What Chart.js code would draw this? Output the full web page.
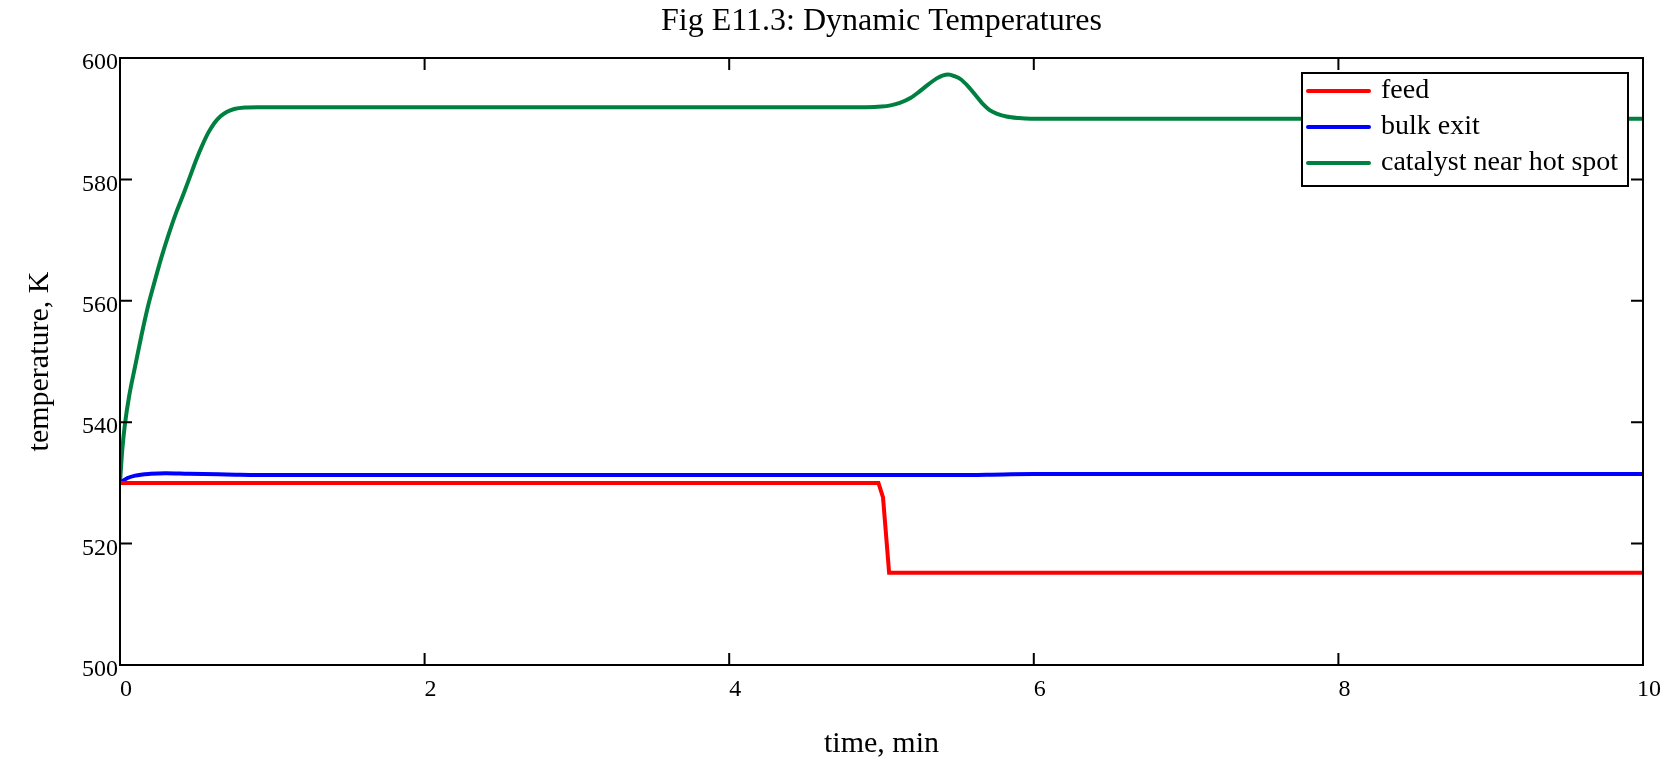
<!DOCTYPE html>
<html>
<head>
<meta charset="utf-8">
<script src="https://cdn.jsdelivr.net/npm/chart.js@4.4.1/dist/chart.umd.min.js"></script>
<style>
  html, body { margin: 0; padding: 0; background: #fff; }
  #wrap { width: 1679px; height: 760px; }
</style>
</head>
<body>
<div id="wrap"><canvas id="chart" width="1679" height="760"></canvas></div>
<script>
// values (time in min, temperature in K)
const feedTime = [0, 4.98, 5.01, 5.05, 10];
const feedTemp = [530, 530, 527.6, 515.2, 515.2];

const bulkTime = [0, 0.05, 0.1, 0.2, 0.3, 0.45, 0.7, 1, 2, 3, 4, 5, 5.5, 5.8, 6, 7, 8, 9, 10];
const bulkTemp = [530, 530.8, 531.2, 531.5, 531.6, 531.5, 531.4, 531.3, 531.3, 531.3, 531.3, 531.3, 531.3, 531.4, 531.45, 531.45, 531.45, 531.45, 531.45];

const catTime = [0, 0.015, 0.033, 0.06, 0.1, 0.14, 0.18, 0.22, 0.27, 0.32, 0.37, 0.42, 0.46, 0.5, 0.54, 0.58, 0.62, 0.66, 0.7, 0.75, 0.82, 0.9, 1, 2, 3, 4, 4.9,
  5.0, 5.06, 5.12, 5.19, 5.25, 5.31, 5.36, 5.4, 5.44, 5.48, 5.52, 5.57, 5.63, 5.67, 5.71, 5.76, 5.82, 5.9, 5.98, 7, 8, 9, 10];
const catTemp = [530, 535.5, 539.8, 544.3, 549.3, 554.2, 558.7, 562.5, 567.0, 571.0, 574.6, 577.8, 580.5, 583.2, 585.6, 587.7, 589.3, 590.4, 591.1, 591.6, 591.85, 591.9, 591.9, 591.9, 591.9, 591.9, 591.9,
  592.0, 592.2, 592.6, 593.4, 594.5, 595.7, 596.6, 597.1, 597.3, 597.0, 596.5, 595.3, 593.5, 592.3, 591.4, 590.8, 590.35, 590.1, 590, 590, 590, 590, 590];

const xTicks = [0, 2, 4, 6, 8, 10];
const yTicks = [500, 520, 540, 560, 580, 600];

const chartTitle = "Fig E11.3: Dynamic Temperatures";
const seriesNames = ["feed", "bulk exit", "catalyst near hot spot"];
const seriesColors = ["#ff0000", "#0000ff", "#008040"];

const FONT = "'Liberation Serif', 'Times New Roman', serif";

const toPoints = (xs, ys) => xs.map((x, i) => ({ x: x, y: ys[i] }));

// title centred over the plot area (not the whole canvas)
const titlePlugin = {
  id: "plotTitle",
  afterDraw(chart) {
    const { ctx, chartArea: a } = chart;
    ctx.save();
    ctx.font = "32px " + FONT;
    ctx.fillStyle = "#000";
    ctx.textAlign = "center";
    ctx.textBaseline = "middle";
    ctx.fillText(chartTitle, (a.left + a.right) / 2, 22);
    ctx.restore();
  }
};

// box round the plot with inward ticks on all four sides
const framePlugin = {
  id: "frame",
  afterDatasetsDraw(chart) {
    const { ctx, chartArea: a, scales } = chart;
    const len = 12;
    ctx.save();
    ctx.strokeStyle = "#000";
    ctx.lineWidth = 2;
    ctx.strokeRect(a.left, a.top, a.right - a.left, a.bottom - a.top);
    ctx.beginPath();
    xTicks.forEach(v => {
      const px = scales.x.getPixelForValue(v);
      ctx.moveTo(px, a.bottom); ctx.lineTo(px, a.bottom - len);
      ctx.moveTo(px, a.top); ctx.lineTo(px, a.top + len);
    });
    yTicks.forEach(v => {
      const py = scales.y.getPixelForValue(v);
      ctx.moveTo(a.left, py); ctx.lineTo(a.left + len, py);
      ctx.moveTo(a.right, py); ctx.lineTo(a.right - len, py);
    });
    ctx.stroke();
    ctx.restore();
  }
};

// legend box inside the plot, top right
const legendPlugin = {
  id: "boxLegend",
  afterDraw(chart) {
    const { ctx } = chart;
    const left = 1302, top = 73, w = 326, h = 113;
    ctx.save();
    ctx.fillStyle = "#fff";
    ctx.fillRect(left, top, w, h);
    ctx.strokeStyle = "#000";
    ctx.lineWidth = 2;
    ctx.strokeRect(left, top, w, h);
    ctx.font = "28px " + FONT;
    ctx.textBaseline = "middle";
    ctx.textAlign = "left";
    chart.data.datasets.forEach((ds, i) => {
      const yy = top + 18 + i * 36;
      ctx.strokeStyle = ds.borderColor;
      ctx.lineWidth = 4;
      ctx.lineCap = "round";
      ctx.beginPath();
      ctx.moveTo(left + 6, yy);
      ctx.lineTo(left + 67, yy);
      ctx.stroke();
      ctx.fillStyle = "#000";
      ctx.fillText(ds.label, left + 79, yy);
    });
    ctx.restore();
  }
};

const makeSet = (i, xs, ys, mode) => ({
  label: seriesNames[i],
  data: toPoints(xs, ys),
  borderColor: seriesColors[i],
  backgroundColor: seriesColors[i],
  borderWidth: 4,
  pointRadius: 0,
  fill: false,
  cubicInterpolationMode: mode,
  tension: mode === "monotone" ? 0.4 : 0
});

new Chart(document.getElementById("chart").getContext("2d"), {
  type: "line",
  data: {
    datasets: [
      makeSet(0, feedTime, feedTemp, "default"),
      makeSet(1, bulkTime, bulkTemp, "monotone"),
      makeSet(2, catTime, catTemp, "monotone")
    ]
  },
  options: {
    responsive: false,
    animation: false,
    layout: { padding: { left: 0, right: 36, top: 58, bottom: 0 } },
    plugins: {
      legend: { display: false },
      tooltip: { enabled: false },
      title: { display: false }
    },
    scales: {
      x: {
        type: "linear",
        min: 0,
        max: 10,
        afterFit(scale) { scale.height = 95; },
        afterBuildTicks(scale) { scale.ticks = xTicks.map(v => ({ value: v })); },
        grid: { display: false, drawTicks: false },
        border: { display: false },
        ticks: {
          color: "#000",
          font: { family: FONT, size: 24 },
          padding: 10,
          labelOffset: 6,
          maxRotation: 0
        },
        title: {
          display: true,
          text: "time, min",
          color: "#000",
          font: { family: FONT, size: 30 },
          padding: { top: 0, bottom: -2 }
        }
      },
      y: {
        type: "linear",
        min: 500,
        max: 600,
        afterFit(scale) { scale.width = 120; },
        afterBuildTicks(scale) { scale.ticks = yTicks.map(v => ({ value: v })); },
        grid: { display: false, drawTicks: false },
        border: { display: false },
        ticks: {
          color: "#000",
          font: { family: FONT, size: 24 },
          padding: 2,
          labelOffset: 5
        },
        title: {
          display: true,
          text: "temperature, K",
          color: "#000",
          font: { family: FONT, size: 30 },
          padding: { top: 22, bottom: 0 }
        }
      }
    }
  },
  plugins: [framePlugin, legendPlugin, titlePlugin]
});
</script>
</body>
</html>
